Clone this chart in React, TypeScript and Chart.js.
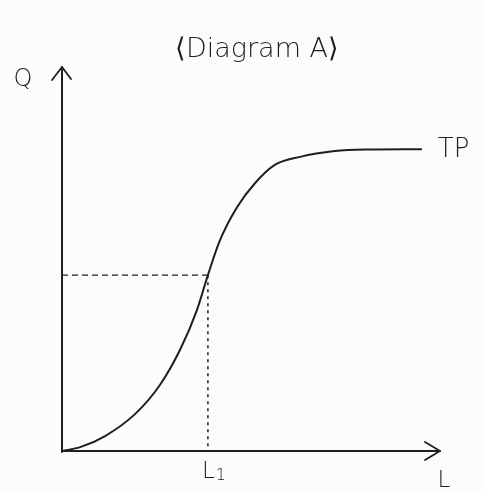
import React, { useEffect, useRef } from "react";
import { Chart, registerables } from "chart.js";

Chart.register(...registerables);

// Total product curve: labour input (L) against output (Q)
const labourInput = [0, 0.48, 1.14, 1.93, 2.59, 3.12, 3.57, 3.86, 4.18, 4.63, 5.11, 5.63, 6.3, 7.22, 8.02, 9.52];
const totalProduct = [0, 0.1, 0.39, 0.96, 1.72, 2.63, 3.67, 4.58, 5.49, 6.35, 6.98, 7.45, 7.66, 7.81, 7.85, 7.86];

// Marked labour level L1 and the output it gives
const markedLabour = 3.86;
const markedOutput = 4.58;

const titleText = "⟨Diagram A⟩";
const curveLabel = "TP";
const xAxisLabel = "L";
const yAxisLabel = "Q";
const markedLabel = "L";
const markedSubscript = "1";

const INK = "#1e1e1e";
const FONT = "'DejaVu Sans', sans-serif";

const annotations = {
  id: "diagramAnnotations",
  beforeDatasetsDraw(chart: any) {
    const { ctx } = chart;
    const xs = chart.scales.x;
    const ys = chart.scales.y;
    const x0 = xs.getPixelForValue(0);
    const y0 = ys.getPixelForValue(0);
    const xEnd = xs.getPixelForValue(xs.max);
    const yEnd = ys.getPixelForValue(ys.max);
    ctx.save();
    ctx.strokeStyle = INK;
    ctx.lineWidth = 2;
    ctx.lineCap = "round";
    ctx.lineJoin = "round";
    // axes
    ctx.beginPath();
    ctx.moveTo(x0, y0 + 1);
    ctx.lineTo(x0, yEnd);
    ctx.moveTo(x0, y0);
    ctx.lineTo(xEnd, y0);
    ctx.stroke();
    // arrowheads
    ctx.lineWidth = 1.8;
    ctx.beginPath();
    ctx.moveTo(x0 - 10, yEnd + 13);
    ctx.lineTo(x0, yEnd);
    ctx.lineTo(x0 + 9, yEnd + 12);
    ctx.moveTo(xEnd - 15, y0 - 9);
    ctx.lineTo(xEnd, y0);
    ctx.lineTo(xEnd - 15, y0 + 9);
    ctx.stroke();
    ctx.restore();
  },
  afterDraw(chart: any) {
    const { ctx } = chart;
    const xs = chart.scales.x;
    const ys = chart.scales.y;
    const lastIdx = labourInput.length - 1;
    ctx.save();
    ctx.fillStyle = INK;
    ctx.textBaseline = "middle";

    ctx.font = `300 27px ${FONT}`;
    ctx.textAlign = "center";
    ctx.fillText(titleText, 257, 50);

    ctx.font = `300 24px ${FONT}`;
    ctx.fillText(yAxisLabel, 23, 80);

    ctx.font = `300 26px ${FONT}`;
    ctx.textAlign = "left";
    ctx.fillText(curveLabel, xs.getPixelForValue(labourInput[lastIdx]) + 16, ys.getPixelForValue(totalProduct[lastIdx]) + 1);

    ctx.font = `300 23px ${FONT}`;
    ctx.textAlign = "center";
    ctx.fillText(xAxisLabel, xs.getPixelForValue(xs.max) + 4, ys.getPixelForValue(0) + 30);

    const mx = xs.getPixelForValue(markedLabour);
    const my = ys.getPixelForValue(0) + 21;
    ctx.textAlign = "left";
    ctx.fillText(markedLabel, mx - 6, my);
    const w = ctx.measureText(markedLabel).width;
    ctx.font = `300 16px ${FONT}`;
    ctx.fillText(markedSubscript, mx - 6 + w + 1, my + 4);
    ctx.restore();
  },
};

const background = {
  id: "paperBackground",
  beforeDraw(chart: any) {
    const { ctx, width, height } = chart;
    ctx.save();
    ctx.fillStyle = "#fcfcfc";
    ctx.fillRect(0, 0, width, height);
    ctx.restore();
  },
};

export default function App() {
  const canvasRef = useRef<HTMLCanvasElement | null>(null);

  useEffect(() => {
    if (!canvasRef.current) return;
    const chart = new Chart(canvasRef.current, {
      type: "line",
      data: {
        datasets: [
          {
            label: curveLabel,
            data: labourInput.map((l, i) => ({ x: l, y: totalProduct[i] })),
            borderColor: INK,
            borderWidth: 2,
            pointRadius: 0,
            cubicInterpolationMode: "monotone",
            fill: false,
          },
          {
            label: "Q at L1",
            data: [
              { x: 0, y: markedOutput },
              { x: markedLabour, y: markedOutput },
            ],
            borderColor: INK,
            borderWidth: 1.3,
            borderDash: [6, 4],
            pointRadius: 0,
            fill: false,
          },
          {
            label: "L1",
            data: [
              { x: markedLabour, y: markedOutput },
              { x: markedLabour, y: 0 },
            ],
            borderColor: INK,
            borderWidth: 1.5,
            borderDash: [3, 4],
            pointRadius: 0,
            fill: false,
          },
        ],
      },
      options: {
        responsive: false,
        animation: false,
        layout: { padding: { left: 62, right: 45, top: 67, bottom: 41 } },
        plugins: {
          legend: { display: false },
          title: { display: false },
          tooltip: { enabled: false },
        },
        scales: {
          x: { type: "linear", min: 0, max: 10, display: false },
          y: { type: "linear", min: 0, max: 10, display: false },
        },
      },
      plugins: [background, annotations],
    });
    return () => chart.destroy();
  }, []);

  return (
    <div style={{ position: "fixed", left: 0, top: 0, width: 485, height: 492 }}>
      <canvas ref={canvasRef} width={485} height={492} style={{ display: "block" }} />
    </div>
  );
}
